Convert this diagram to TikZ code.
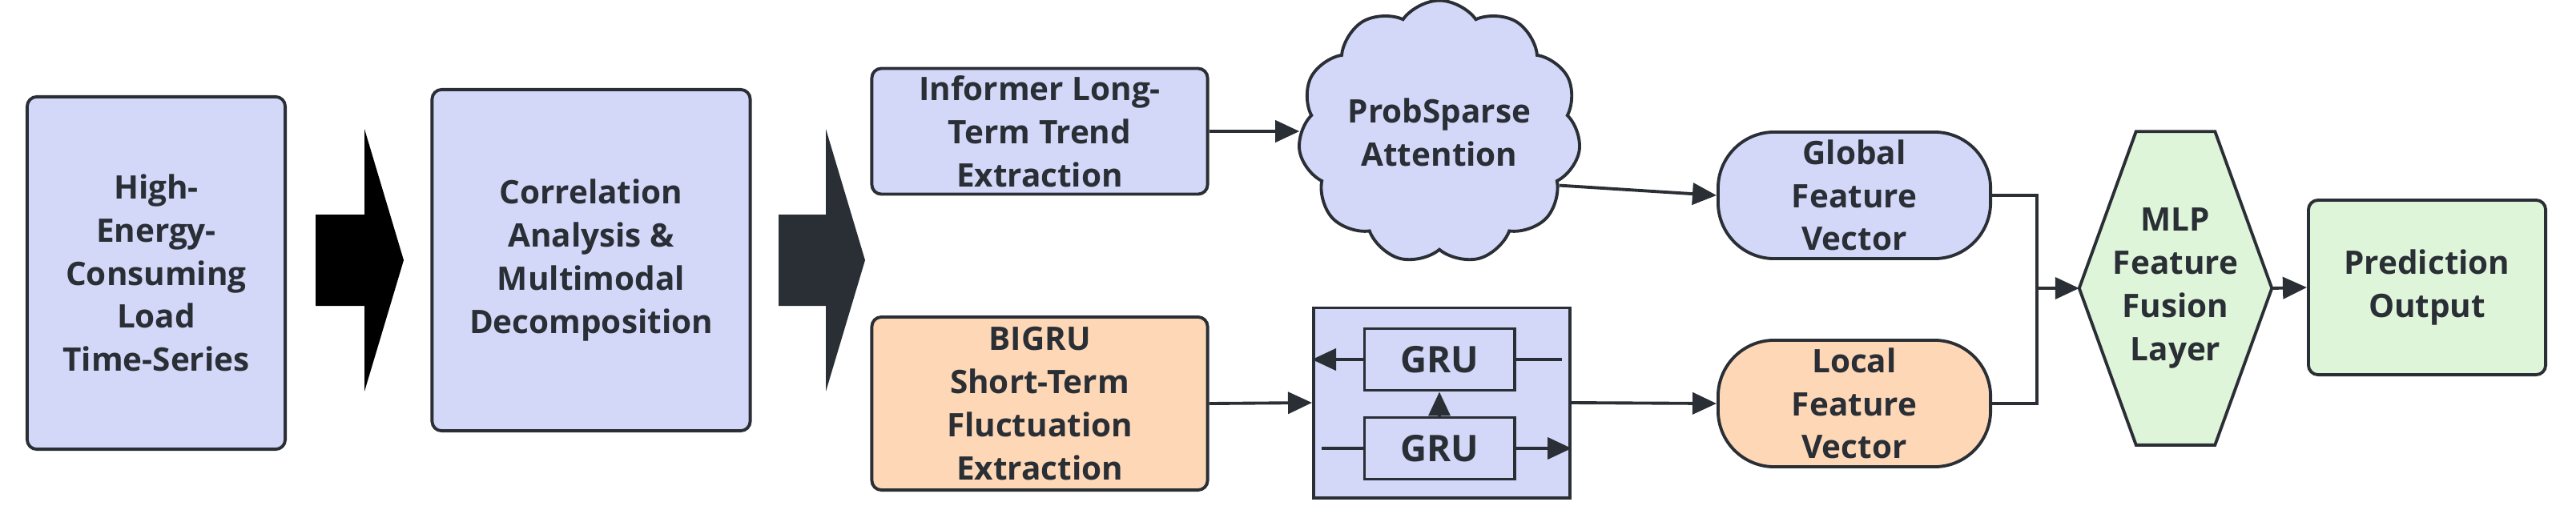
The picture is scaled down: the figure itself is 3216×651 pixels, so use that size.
\documentclass[tikz,border=0pt]{standalone}
\usepackage{fontspec}
\setmainfont{Open Sans}
\usetikzlibrary{arrows.meta,shapes.symbols,calc}
\definecolor{lav}{HTML}{D3D7F8}
\definecolor{org}{HTML}{FDD7B6}
\definecolor{grn}{HTML}{DFF5DA}
\definecolor{stk}{HTML}{2A2E35}
\begin{document}
\begin{tikzpicture}[x=0.01cm,y=-0.01cm,
  txt/.style={font=\fontsize{11.5}{15.3}\selectfont\bfseries,text=stk,align=center,inner sep=0pt},
  box/.style={txt,draw=stk,line width=1.1pt,rounded corners=0.12cm},
  con/.style={draw=stk,line width=1.1pt},
  arr/.style={con,-{Triangle[length=0.3cm,width=0.27cm]}},
  big/.style={fill=black,draw=none}]
\useasboundingbox (0,0) rectangle (3216,651);
\node[box,fill=lav,minimum width=3.22cm,minimum height=4.4cm] (in) at (195,341) {High-\\Energy-\\Consuming\\Load\\Time-Series};
\node[box,fill=lav,minimum width=3.97cm,minimum height=4.26cm] (corr) at (738,325) {Correlation\\Analysis \&\\Multimodal\\Decomposition};
\node[box,fill=lav,minimum width=4.19cm,minimum height=1.57cm] (inf) at (1298,164) {Informer Long-\\Term Trend\\Extraction};
\node[box,fill=org,minimum width=4.19cm,minimum height=2.16cm] (bigru) at (1298,504) {BIGRU\\Short-Term\\Fluctuation\\Extraction};
\node[txt,cloud,cloud puffs=11,cloud puff arc=110,aspect=1.1,draw=stk,line width=1.1pt,fill=lav,minimum width=3.13cm,minimum height=2.8cm] (cloud) at (1797,165) {ProbSparse\\Attention};
\node[box,fill=lav,rounded corners=0.7cm,minimum width=3.4cm,minimum height=1.58cm] (glob) at (2315,244) {Global\\Feature\\Vector};
\node[box,fill=org,rounded corners=0.7cm,minimum width=3.4cm,minimum height=1.58cm] (loc) at (2315,504) {Local\\Feature\\Vector};
\node[draw=stk,line width=1.1pt,fill=lav,minimum width=3.2cm,minimum height=2.37cm,inner sep=0pt] (blk) at (1800,503) {};
\node[box,rounded corners=0pt,fill=lav,minimum width=1.87cm,minimum height=0.77cm] (gru1) at (1797,449) {\fontsize{13}{15}\selectfont GRU};
\node[box,rounded corners=0pt,fill=lav,minimum width=1.87cm,minimum height=0.77cm] (gru2) at (1797,560) {\fontsize{13}{15}\selectfont GRU};
\node[txt,minimum width=2.39cm,minimum height=3.9cm] (mlp) at (2716,360) {MLP\\Feature\\Fusion\\Layer};
\draw[con,fill=grn,line join=miter] (mlp.west) -- ($(mlp.north west)+(71,0)$) -- ($(mlp.north east)+(-71,0)$) -- (mlp.east) -- ($(mlp.south east)+(-71,0)$) -- ($(mlp.south west)+(71,0)$) -- cycle;
\node[txt] at (mlp) {MLP\\Feature\\Fusion\\Layer};
\node[box,fill=grn,minimum width=2.96cm,minimum height=2.18cm] (pred) at (3030,359) {Prediction\\Output};
% big arrows
\fill[big] (394,268) -- (455,268) -- (455,161) -- (504,325) -- (455,489) -- (455,382) -- (394,382) -- cycle;
\fill[big,fill=stk] (972,268) -- (1031,268) -- (1031,161) -- (1080,325) -- (1031,489) -- (1031,382) -- (972,382) -- cycle;
% connectors
\draw[arr] (inf.east) -- (cloud.west |- inf.east);
\draw[arr] (cloud.-24) -- (glob.west);
\draw[arr] (bigru.east) -- (blk.west);
\draw[arr] (gru1.west) -- (blk.west |- gru1.west);
\draw[con] (gru1.east) -- (1950,449);
\draw[con] (1650,560) -- (gru2.west);
\draw[arr] (gru2.east) -- (blk.east |- gru2.east);
\draw[arr] (gru2.north) -- (gru1.south);
\draw[arr] (blk.east) -- (loc.west);
\coordinate (junc) at (2543,360);
\draw[con] (glob.east) -| (junc);
\draw[con] (loc.east) -| (junc);
\draw[arr] (junc) -- (mlp.west);
\draw[arr] (mlp.east) -- (pred.west);
\end{tikzpicture}
\end{document}
